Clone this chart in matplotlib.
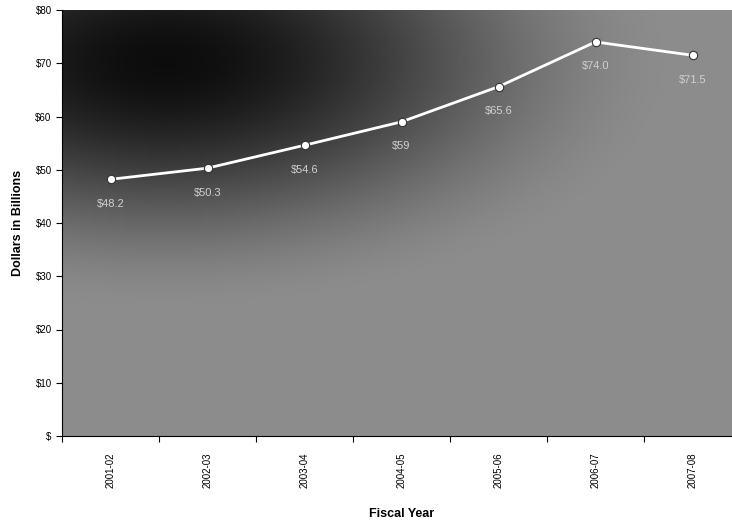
import numpy as np
import matplotlib.pyplot as plt
from matplotlib.ticker import FuncFormatter, FixedLocator

years = ["2001-02", "2002-03", "2003-04", "2004-05", "2005-06", "2006-07", "2007-08"]
spending = [48.2, 50.3, 54.6, 59.0, 65.6, 74.0, 71.5]
point_labels = ["$48.2", "$50.3", "$54.6", "$59", "$65.6", "$74.0", "$71.5"]

plt.rcParams['font.family'] = ['Liberation Sans', 'DejaVu Sans']

fig = plt.figure(figsize=(7.32, 5.21), dpi=100)
ax = fig.add_axes([62 / 732, 85 / 521, 679 / 732, 426 / 521])

x = np.arange(len(years))
ax.set_xlim(-0.5, len(years) - 0.5)
ax.set_ylim(0, 80)

# dark corner top-left fading to mid grey (the scanned halftone background)
gx, gy = np.meshgrid(np.linspace(0, 1, 300), np.linspace(0, 1, 300))
dist = np.sqrt(((gx - 0.15) / 1.1) ** 2 + ((gy - 0.12) / 0.85) ** 2)
t = np.clip(dist / 0.7, 0, 1)
shade = 0.05 + 0.5 * (3 * t ** 2 - 2 * t ** 3)
ax.imshow(shade, cmap="gray", vmin=0, vmax=1, extent=[-0.5, len(years) - 0.5, 0, 80],
          origin="upper", aspect="auto", zorder=0, interpolation="bilinear")

ax.plot(x, spending, color="white", lw=2, zorder=3)
ax.plot(x, spending, "o", color="white", mec="#333333", mew=0.8, ms=6, zorder=4)
for xi, v, lab in zip(x, spending, point_labels):
    ax.annotate(lab, (xi, v), xytext=(0, -14), textcoords="offset points",
                ha="center", va="top", color="#d0d0d0", fontsize=8, zorder=5)

ax.set_yticks(range(0, 81, 10))
ax.yaxis.set_major_formatter(FuncFormatter(lambda v, p: "$" if v == 0 else "${:.0f}".format(v)))
ax.set_xticks(x)
ax.set_xticklabels(years, rotation=90, fontsize=7)
ax.xaxis.set_minor_locator(FixedLocator(np.arange(-0.5, len(years), 1.0)))
ax.tick_params(axis="x", which="major", length=0, pad=12)
ax.tick_params(axis="x", which="minor", length=4, width=0.8)
ax.tick_params(axis="y", labelsize=7, length=4, width=0.8)

for s in ["top", "right"]:
    ax.spines[s].set_visible(False)

ax.set_ylabel("Dollars in Billions", fontsize=9, fontweight="bold", labelpad=8)
ax.set_xlabel("Fiscal Year", fontsize=9, fontweight="bold", labelpad=14)

plt.savefig("out.png", dpi=100)
